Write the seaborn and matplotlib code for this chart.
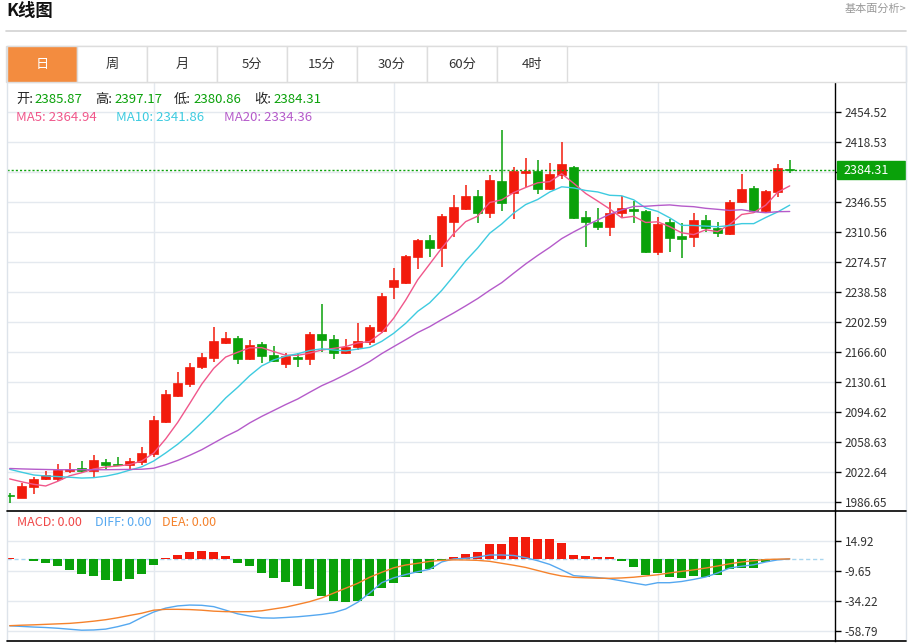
import matplotlib
matplotlib.use('Agg')
import matplotlib.pyplot as plt
import matplotlib.transforms as mtransforms
from matplotlib.patches import Rectangle
import numpy as np
import pandas as pd
import seaborn as sns

# daily candles, oldest first
opens = [1994.5, 1991.3, 2004.6, 2014.1, 2014.1, 2023.0, 2027.0, 2023.8, 2033.9, 2031.9,
         2030.3, 2034.3, 2043.5, 2081.9, 2113.8, 2127.8, 2148.6, 2158.7, 2176.6, 2183.0,
         2157.8, 2175.8, 2163.0, 2152.2, 2160.6, 2157.5, 2187.8, 2181.8, 2165.4, 2171.9,
         2177.9, 2191.8, 2244.2, 2248.6, 2280.5, 2300.6, 2290.6, 2322.5, 2337.8, 2353.7,
         2333.4, 2371.4, 2357.3, 2381.3, 2383.7, 2361.8, 2378.6, 2388.5, 2328.5, 2322.5,
         2315.8, 2332.6, 2337.8, 2335.7, 2285.8, 2321.8, 2305.4, 2304.6, 2324.6, 2314.6,
         2307.8, 2345.8, 2362.6, 2335.7, 2357.8, 2385.87]
highs = [1997.5, 2008.6, 2015.8, 2023.0, 2031.8, 2032.6, 2035.0, 2042.3, 2037.8, 2040.3,
         2039.0, 2051.9, 2089.4, 2120.6, 2142.5, 2152.7, 2165.4, 2196.2, 2189.9, 2185.4,
         2180.6, 2178.2, 2173.4, 2164.6, 2164.6, 2189.9, 2223.8, 2186.6, 2181.8, 2201.0,
         2198.6, 2237.4, 2266.6, 2282.2, 2301.8, 2306.6, 2331.8, 2354.6, 2366.2, 2360.6,
         2378.6, 2432.6, 2388.5, 2398.6, 2396.6, 2393.3, 2418.5, 2389.5, 2335.7, 2338.6,
         2346.6, 2353.4, 2347.8, 2336.8, 2328.5, 2325.8, 2320.6, 2332.6, 2330.6, 2322.5,
         2348.6, 2379.8, 2365.4, 2360.6, 2391.4, 2397.17]
lows = [1985.5, 1990.5, 1995.9, 2012.6, 2011.7, 2020.6, 2020.6, 2016.6, 2026.2, 2030.0,
        2026.2, 2030.3, 2040.3, 2080.7, 2111.9, 2124.6, 2145.5, 2154.6, 2175.5, 2151.8,
        2156.6, 2153.4, 2154.6, 2147.4, 2148.6, 2150.6, 2166.6, 2158.2, 2163.8, 2168.6,
        2174.6, 2188.7, 2229.4, 2247.8, 2266.2, 2280.5, 2268.6, 2303.8, 2336.6, 2320.6,
        2326.6, 2335.7, 2325.4, 2364.5, 2355.8, 2361.0, 2373.4, 2325.5, 2292.5, 2312.6,
        2305.8, 2328.5, 2321.3, 2285.0, 2282.6, 2286.6, 2278.6, 2292.5, 2310.6, 2304.6,
        2307.0, 2345.0, 2333.4, 2334.5, 2352.5, 2380.86]
closes = [1993.0, 2005.4, 2014.1, 2018.6, 2024.5, 2026.1, 2023.8, 2036.6, 2030.3, 2030.3,
          2035.4, 2044.7, 2084.3, 2115.5, 2129.0, 2148.6, 2160.6, 2179.4, 2183.4, 2157.8,
          2175.0, 2161.8, 2155.8, 2161.4, 2157.5, 2187.5, 2181.0, 2165.4, 2172.6, 2179.1,
          2195.9, 2233.8, 2252.6, 2281.4, 2300.6, 2290.6, 2329.0, 2339.8, 2353.4, 2333.4,
          2372.6, 2344.6, 2383.7, 2383.7, 2361.4, 2379.8, 2391.8, 2326.6, 2322.5, 2315.8,
          2332.6, 2338.6, 2335.4, 2285.8, 2319.8, 2303.4, 2301.8, 2324.6, 2314.6, 2308.6,
          2346.6, 2361.8, 2335.4, 2359.4, 2386.6, 2384.31]

# moving averages before the first full window (they rely on older bars)
ma5_head = [2014.0, 2010.5, 2007.5, 2005.5]
ma10_head = [2025.5, 2022.0, 2018.7, 2017.5, 2016.8, 2016.0, 2015.0, 2015.5, 2017.3]
ma20_head = [2026.5, 2026.0, 2025.6, 2025.3, 2025.0, 2025.0, 2025.0, 2025.0, 2025.0, 2025.2,
             2025.4, 2025.6, 2026.8, 2031.0, 2036.2, 2042.3, 2049.0, 2057.0, 2065.0]

# MACD panel
macd_hist = [0.4, 0.3, -1.5, -3.1, -5.8, -9.1, -12.1, -14.0, -17.0, -18.1,
             -16.2, -12.4, -5.0, 0.5, 2.9, 5.6, 6.5, 5.9, 2.4, -3.1,
             -5.8, -11.3, -15.6, -19.2, -22.4, -24.4, -30.1, -34.7, -35.3, -34.2,
             -30.1, -24.1, -19.5, -14.6, -11.3, -8.5, -0.9, 1.6, 4.3, 5.9,
             12.0, 12.2, 17.9, 17.7, 16.0, 16.6, 12.8, 3.5, 2.1, 1.3,
             1.6, -1.5, -6.4, -12.9, -11.5, -14.6, -15.4, -14.3, -14.6, -13.4,
             -8.5, -7.2, -7.7, -2.8, -0.5, 0.0]
diff_line = [-54.8, -55.3, -55.8, -56.2, -56.8, -57.6, -58.4, -58.2, -57.5, -55.5,
             -53.0, -48.0, -43.5, -40.3, -38.5, -37.8, -38.0, -39.1, -42.0, -45.0,
             -46.8, -48.3, -48.5, -48.0, -47.4, -46.5, -45.5, -44.0, -41.0, -35.5,
             -28.0, -19.5, -15.5, -12.8, -10.5, -8.5, -2.5, 0.0, 0.5, 1.5,
             3.2, 3.2, 2.8, 1.0, -1.5, -4.5, -9.0, -13.7, -14.5, -15.3,
             -16.3, -18.0, -19.8, -21.4, -19.5, -19.5, -18.5, -16.8, -14.8, -11.5,
             -7.5, -6.0, -4.8, -2.5, -0.8, 0.0]
dea_line = [-54.7, -54.3, -54.0, -53.6, -53.2, -52.8, -52.0, -51.0, -49.8, -48.2,
            -46.3, -44.5, -42.0, -41.3, -41.3, -41.5, -42.0, -42.8, -43.2, -43.3,
            -43.2, -42.5, -41.0, -39.5, -37.3, -35.0, -32.0, -28.0, -24.0, -20.0,
            -15.0, -11.0, -7.3, -5.0, -3.6, -2.0, -1.2, -0.8, -0.9, -1.2,
            -2.0, -3.6, -5.2, -7.0, -9.5, -12.0, -14.0, -15.1, -15.5, -15.8,
            -15.9, -15.6, -15.0, -14.0, -13.0, -11.5, -10.2, -9.0, -7.5, -5.8,
            -4.0, -2.5, -1.5, -0.5, -0.2, 0.0]

price_ticks = [2454.52, 2418.53, 2382.54, 2346.55, 2310.56, 2274.57, 2238.58,
               2202.59, 2166.60, 2130.61, 2094.62, 2058.63, 2022.64, 1986.65]
macd_ticks = [14.92, -9.65, -34.22, -58.79]
month_marks = [12, 32, 54]
tabs = ['日', '周', '月', '5分', '15分', '30分', '60分', '4时']
info_names = ['开:', '高:', '低:', '收:']
info_values = ['2385.87', '2397.17', '2380.86', '2384.31']
ma_labels = ['MA5: 2364.94', 'MA10: 2341.86', 'MA20: 2334.36']
macd_labels = ['MACD: 0.00', 'DIFF: 0.00', 'DEA: 0.00']

RED = '#f21b0c'
GREEN = '#0aa10a'
MA_COLORS = ['#f0578b', '#3ecbe0', '#b55bca']
MACD_COLORS = ['#f04848', '#55a8f0', '#f5822c']
GRID = '#e4e9ef'

sns.set_style('white')
plt.rcParams['font.family'] = ['Noto Sans CJK SC', 'DejaVu Sans']

df = pd.DataFrame({'open': opens, 'high': highs, 'low': lows, 'close': closes,
                   'hist': macd_hist, 'diff': diff_line, 'dea': dea_line})
df['i'] = np.arange(len(df))
for w, head in [(5, ma5_head), (10, ma10_head), (20, ma20_head)]:
    ma = df['close'].rolling(w).mean()
    ma.iloc[:len(head)] = head
    df['ma%d' % w] = ma

W, H = 911, 644
fig = plt.figure(figsize=(W / 100, H / 100), dpi=100)

def box(x0, y0, x1, y1):
    return [x0 / W, 1 - y1 / H, (x1 - x0) / W, (y1 - y0) / H]

ax = fig.add_axes(box(7, 83, 835, 511))
ax2 = fig.add_axes(box(7, 511, 835, 641))
px = 12.0
xlim = ((7 - 9.7) / px, (835 - 9.7) / px)

# candles: red up, green down
up = df['close'] >= df['open']
cols = np.where(up, RED, GREEN)
ax.vlines(df['i'], df['low'], df['high'], colors=cols, lw=1.1, zorder=3)
body_lo = np.minimum(df['open'], df['close'])
body_h = np.maximum(np.abs(df['close'] - df['open']), 1.0)
ax.bar(df['i'], body_h, bottom=body_lo, width=0.76, color=cols, edgecolor=cols,
       lw=0.5, zorder=4)

for w, c in zip([5, 10, 20], MA_COLORS):
    sns.lineplot(data=df, x='i', y='ma%d' % w, ax=ax, color=c, lw=1.0, zorder=5,
                 legend=False)

ax.axhline(closes[-1], color=GREEN, ls=(0, (1.5, 1.5)), lw=1.0, zorder=6)

ax.set_xlim(*xlim)
ax.set_ylim(2454.52 - (511 - 111.7) * 35.99 / 30, 2454.52 + (111.7 - 83) * 35.99 / 30)
ax.set_yticks(price_ticks)
ax.set_yticklabels(['' if t == 2382.54 else '%.2f' % t for t in price_ticks])
ax.set_xticks(month_marks)
ax.set_xticklabels([])
ax.set_xlabel('')
ax.set_ylabel('')

# MACD panel
hcols = np.where(df['hist'] >= 0, RED, GREEN)
ax2.bar(df['i'], df['hist'], width=0.76, color=hcols, lw=0, zorder=3)
ax2.axhline(0, xmax=(823 - 7) / (835 - 7), color='#a9d6ef', ls=(0, (3, 2)), lw=1.0,
            zorder=2)
sns.lineplot(data=df, x='i', y='diff', ax=ax2, color=MACD_COLORS[1], lw=1.0, zorder=5,
             legend=False)
sns.lineplot(data=df, x='i', y='dea', ax=ax2, color=MACD_COLORS[2], lw=1.0, zorder=5,
             legend=False)
ax2.set_xlim(*xlim)
ax2.set_ylim((558.9 - 641) * 24.57 / 30, (558.9 - 511) * 24.57 / 30)
ax2.set_yticks(macd_ticks)
ax2.set_yticklabels(['%.2f' % t for t in macd_ticks])
ax2.set_xticks(month_marks)
ax2.set_xticklabels([])
ax2.set_xlabel('')
ax2.set_ylabel('')

for a in (ax, ax2):
    a.set_facecolor('white')
    for s in ('left', 'top', 'bottom'):
        a.spines[s].set_visible(False)
    a.spines['right'].set_color('black')
    a.spines['right'].set_linewidth(1.0)
    a.yaxis.tick_right()
    a.tick_params(axis='y', direction='out', length=4, width=1, color='black',
                  labelsize=8.5, labelcolor='#333333', pad=3)
    a.tick_params(axis='x', length=0)
    a.grid(True, color=GRID, lw=1.0)
    a.set_axisbelow(True)

# current price tag on the axis
blend = mtransforms.blended_transform_factory(ax.transAxes, ax.transData)
ax.add_patch(Rectangle(((837 - 7) / 828, closes[-1] - 10.8), 68 / 828, 21.6,
                       transform=blend, color=GREEN, clip_on=False, zorder=10))
ax.text((843 - 7) / 828, closes[-1], '%.2f' % closes[-1], transform=blend,
        color='white', fontsize=9, va='center', ha='left', zorder=11, clip_on=False)

# page chrome drawn in pixel coordinates
bg = fig.add_axes([0, 0, 1, 1], zorder=20)
bg.set_xlim(0, W)
bg.set_ylim(H, 0)
bg.set_axis_off()

bg.text(6, 11, 'K线图', fontsize=12.5, fontweight='bold', color='#111111',
        va='center', ha='left')
bg.text(906, 9, '基本面分析>', fontsize=8, color='#999999', va='center', ha='right')
bg.plot([6, 906], [30.5, 30.5], color='#d2d2d2', lw=1.2)

bg.add_patch(Rectangle((6, 46), 900, 36, fc='none', ec='#dddddd', lw=1))
for k, name in enumerate(tabs):
    x0 = 7 + 70 * k
    on = k == 0
    bg.add_patch(Rectangle((x0, 46), 70, 36, fc='#f38c3f' if on else 'white',
                           ec='#dddddd', lw=1))
    bg.text(x0 + 35, 64, name, fontsize=9.5, color='white' if on else '#333333',
            ha='center', va='center')

# panel frame
bg.plot([6.5, 6.5], [82, 641], color='#dde3ea', lw=1)
bg.plot([905.5, 905.5], [46, 641], color='#dde3ea', lw=1)
bg.plot([7, 906], [511, 511], color='black', lw=1.2)
bg.plot([7, 906], [641, 641], color='black', lw=1.2)

# ohlc and moving average readout
name_x = [16, 95, 174, 254]
val_x = [34, 114, 193, 273]
for nx, vx, n, v in zip(name_x, val_x, info_names, info_values):
    bg.text(nx, 99, n, fontsize=9.5, color='#222222', va='center', ha='left')
    bg.text(vx, 99, v, fontsize=9.5, color=GREEN, va='center', ha='left')
for x, t, c in zip([16, 116, 224], ma_labels, MA_COLORS):
    bg.text(x, 117, t, fontsize=9.5, color=c, va='center', ha='left')
for x, t, c in zip([17, 95, 162], macd_labels, MACD_COLORS):
    bg.text(x, 522, t, fontsize=9, color=c, va='center', ha='left')

fig.savefig('out.png', dpi=100, facecolor='white')
